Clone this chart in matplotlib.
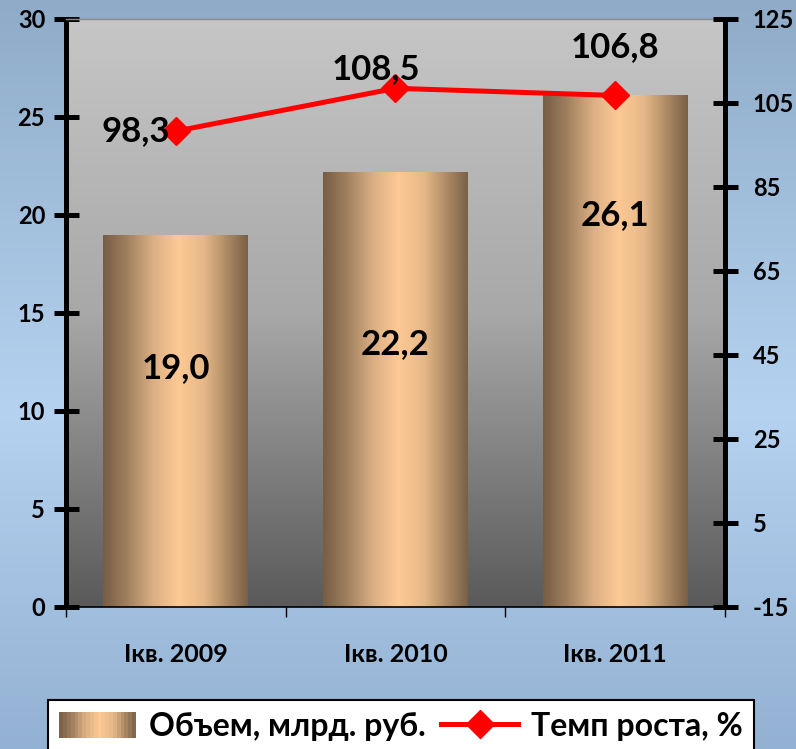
import numpy as np
import matplotlib
matplotlib.use("Agg")
import matplotlib.pyplot as plt
from matplotlib.colors import LinearSegmentedColormap
from matplotlib.patches import Rectangle
from matplotlib.legend_handler import HandlerBase
from matplotlib.lines import Line2D

plt.rcParams['font.family'] = ['Lato', 'Open Sans', 'DejaVu Sans']
plt.rcParams['font.weight'] = 'bold'
plt.rcParams['axes.unicode_minus'] = False

categories = ["Iкв. 2009", "Iкв. 2010", "Iкв. 2011"]
volume = [19.0, 22.2, 26.1]
growth = [98.3, 108.5, 106.8]
volume_labels = ["19,0", "22,2", "26,1"]
growth_labels = ["98,3", "108,5", "106,8"]
left_ticks = [0, 5, 10, 15, 20, 25, 30]
right_ticks = [-15, 5, 25, 45, 65, 85, 105, 125]
series_names = ["Объем, млрд. руб.", "Темп роста, %"]

W, H = 796, 749
fig = plt.figure(figsize=(W / 100, H / 100), dpi=100)

# figure background gradient
bg = fig.add_axes([0, 0, 1, 1], zorder=-10)
bg_cmap = LinearSegmentedColormap.from_list(
    "bg", [(0.0, "#8fabc8"), (0.55, "#b5d2f0"), (1.0, "#93b1d2")])
bg.imshow(np.linspace(0, 1, 256).reshape(-1, 1), cmap=bg_cmap, aspect="auto",
          extent=[0, 1, 0, 1], origin="upper")
bg.set_axis_off()

ax = fig.add_axes([66 / W, 1 - 607 / H, (725 - 66) / W, (607 - 19) / H])
ax.set_xlim(-0.5, 2.5)
ax.set_ylim(0, 30)

# plot-area gradient
pa_cmap = LinearSegmentedColormap.from_list("pa", ["#c6c6c6", "#a8a8a8", "#5a5a5a"])
ax.imshow(np.linspace(0, 1, 256).reshape(-1, 1), cmap=pa_cmap, aspect="auto",
          extent=[-0.5, 2.5, 0, 30], origin="upper", zorder=0)

x = np.arange(len(categories))
bars = ax.bar(x, volume, width=0.66, color="none", edgecolor="none", zorder=2)
bar_cmap = LinearSegmentedColormap.from_list(
    "bar", [(0.0, "#775d45"), (0.15, "#9c7c5c"), (0.35, "#dcb084"),
            (0.52, "#fdc995"), (0.7, "#e6b887"), (0.88, "#a4835f"), (1.0, "#7a6048")])
grad = np.linspace(0, 1, 256).reshape(1, -1)
for b in bars:
    im = ax.imshow(grad, cmap=bar_cmap, aspect="auto",
                   extent=[b.get_x(), b.get_x() + b.get_width(), 0, b.get_height()],
                   zorder=2)
    im.set_clip_path(b)
ax.set_xlim(-0.5, 2.5)
ax.set_ylim(0, 30)

# bar value labels
bar_label_y = [12.2, 13.4, 20.0]
for xi, ly, t in zip(x, bar_label_y, volume_labels):
    ax.text(xi, ly, t, ha="center", va="center", fontsize=25, fontweight="bold",
            color="black", zorder=5)

# spines / ticks
ax.spines["left"].set_linewidth(3.6)
ax.spines["right"].set_visible(False)
ax.spines["top"].set_color("#8a8a8a")
ax.spines["top"].set_linewidth(1)
ax.spines["bottom"].set_linewidth(1.2)
ax.set_yticks(left_ticks)
ax.tick_params(axis="y", direction="inout", length=18, width=3.6, labelsize=17, pad=6)
ax.set_xticks([-0.5, 0.5, 1.5, 2.5], minor=False)
ax.set_xticklabels([])
ax.tick_params(axis="x", direction="out", length=7, width=1, which="major")
ax.set_xticks(x, minor=True)
ax.set_xticklabels(categories, minor=True, fontsize=18, fontweight="bold")
ax.tick_params(axis="x", which="minor", length=0, pad=26)
for lbl in ax.get_yticklabels():
    lbl.set_fontweight("bold")

ax2 = ax.twinx()
ax2.set_ylim(-15, 125)
ax2.set_yticks(right_ticks)
for s in ["left", "top", "bottom"]:
    ax2.spines[s].set_visible(False)
ax2.spines["right"].set_linewidth(3.6)
ax2.tick_params(axis="y", direction="inout", length=18, width=3.6, labelsize=17, pad=11)
for lbl in ax2.get_yticklabels():
    lbl.set_fontweight("bold")
ax2.plot(x, growth, color="#ff0000", lw=3.6, marker="D", ms=14, zorder=4)

growth_offsets = [(-4, 0, "right", "center"), (-14, 14, "center", "center"),
                  (0, 35, "center", "center")]
for xi, v, t, (dx, dy, ha, va) in zip(x, growth, growth_labels, growth_offsets):
    ax2.annotate(t, (xi, v), xytext=(dx, dy), textcoords="offset points",
                 ha=ha, va=va, fontsize=25, fontweight="bold", zorder=6)


class GradHandler(HandlerBase):
    def create_artists(self, legend, orig_handle, xdescent, ydescent, width, height,
                       fontsize, trans):
        n = 20
        arts = []
        for i in range(n):
            c = bar_cmap((i + 0.5) / n)
            r = Rectangle((width * i / n, -ydescent), width / n + 0.3, height,
                          facecolor=c, edgecolor="none", transform=trans)
            arts.append(r)
        return arts


proxy_bar = Rectangle((0, 0), 1, 1)
proxy_line = Line2D([], [], color="#ff0000", lw=3.6, marker="D", ms=14)
leg = fig.legend([proxy_bar, proxy_line], series_names,
                 handler_map={Rectangle: GradHandler()},
                 loc="lower left", bbox_to_anchor=(48 / W, -3 / H), borderaxespad=0,
                 ncol=2, frameon=True, fancybox=False, framealpha=1,
                 edgecolor="black", prop={"weight": "bold", "size": 23},
                 handlelength=2.4, handleheight=0.9, columnspacing=0.5,
                 handletextpad=0.4, borderpad=0.35)
leg.get_frame().set_linewidth(1.5)

fig.savefig("out.png", dpi=100)
